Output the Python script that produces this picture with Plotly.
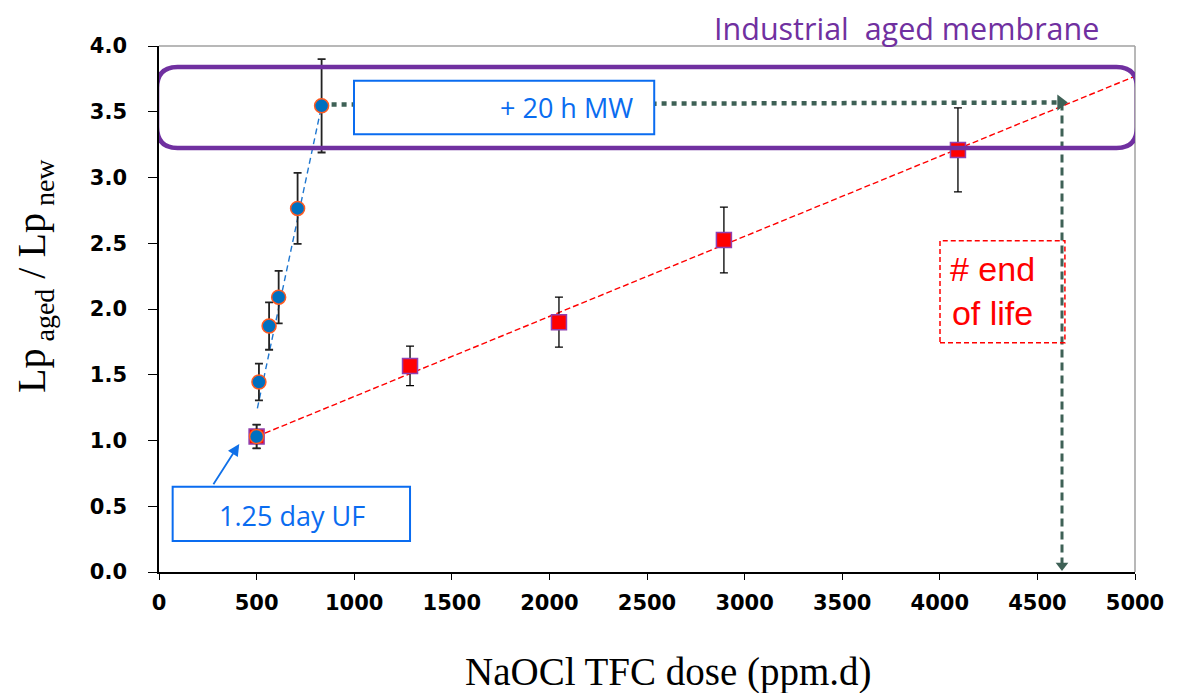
import plotly.graph_objects as go

# ---- data ----
uf_dose = [500, 512, 564, 613, 710, 833]
uf_ratio = [1.03, 1.445, 1.87, 2.09, 2.765, 3.545]
uf_err = [0.09, 0.14, 0.18, 0.20, 0.27, 0.355]

tfc_dose = [500, 1286, 2049, 2894, 4093]
tfc_ratio = [1.03, 1.567, 1.90, 2.525, 3.21]
tfc_err = [0.09, 0.15, 0.19, 0.25, 0.32]

uf_fit_x = [504, 833]
uf_fit_y = [1.245, 3.545]
tfc_fit_x = [500, 5000]
tfc_fit_y = [1.03, 3.77]

mw_x = [833, 4620]
mw_y = [3.555, 3.57]
eol_x = [4626, 4626]
eol_y = [3.57, 0.05]

x_ticks = [0, 500, 1000, 1500, 2000, 2500, 3000, 3500, 4000, 4500, 5000]
y_ticks = [0.0, 0.5, 1.0, 1.5, 2.0, 2.5, 3.0, 3.5, 4.0]

GREEN = "#3E6156"
PURPLE = "#7030A0"
BLUE_T = "#0A6CF0"

fig = go.Figure()

# trend lines
fig.add_trace(go.Scatter(x=tfc_fit_x, y=tfc_fit_y, mode="lines",
                         line=dict(color="#FF0000", width=1.4, dash="6px,3px"),
                         showlegend=False, hoverinfo="skip"))
fig.add_trace(go.Scatter(x=uf_fit_x, y=uf_fit_y, mode="lines",
                         line=dict(color="#1F77D0", width=1.4, dash="6px,4px"),
                         showlegend=False, hoverinfo="skip"))

# green arrows
fig.add_trace(go.Scatter(x=mw_x, y=mw_y, mode="lines",
                         line=dict(color=GREEN, width=4.5, dash="5px,5px"),
                         showlegend=False, hoverinfo="skip"))
fig.add_trace(go.Scatter(x=[mw_x[-1]], y=[mw_y[-1]], mode="markers",
                         marker=dict(symbol="triangle-right", size=14, color=GREEN),
                         showlegend=False, hoverinfo="skip"))
fig.add_trace(go.Scatter(x=eol_x, y=eol_y, mode="lines",
                         line=dict(color=GREEN, width=3, dash="8px,5px"),
                         showlegend=False, hoverinfo="skip"))
fig.add_trace(go.Scatter(x=[eol_x[-1]], y=[eol_y[-1]], mode="markers",
                         marker=dict(symbol="triangle-down", size=11, color=GREEN),
                         showlegend=False, hoverinfo="skip"))

# data series
fig.add_trace(go.Scatter(x=tfc_dose, y=tfc_ratio, mode="markers",
                         marker=dict(symbol="square", size=15, color="#FF0000",
                                     line=dict(color="#9040B0", width=1.5)),
                         error_y=dict(type="data", array=tfc_err, color="black",
                                      thickness=1.3, width=4),
                         showlegend=False))
fig.add_trace(go.Scatter(x=uf_dose, y=uf_ratio, mode="markers",
                         marker=dict(symbol="circle", size=14, color="#0070C0",
                                     line=dict(color="#FF5A20", width=1.5)),
                         error_y=dict(type="data", array=uf_err, color="#222222",
                                      thickness=1.8, width=4),
                         showlegend=False))

shapes = []
# frame top/right
shapes.append(dict(type="line", xref="paper", yref="paper", x0=0, x1=1, y0=1, y1=1,
                   line=dict(color="#A0A0A0", width=1.5)))
shapes.append(dict(type="line", xref="paper", yref="paper", x0=1, x1=1, y0=0, y1=1,
                   line=dict(color="#A0A0A0", width=1.5)))

# purple rounded box
x0, x1, y0, y1 = -10, 5010, 3.224, 3.84
rx, ry = 105, 0.16
path = (f"M {x0+rx},{y0} L {x1-rx},{y0} Q {x1},{y0} {x1},{y0+ry} "
        f"L {x1},{y1-ry} Q {x1},{y1} {x1-rx},{y1} L {x0+rx},{y1} "
        f"Q {x0},{y1} {x0},{y1-ry} L {x0},{y0+ry} Q {x0},{y0} {x0+rx},{y0} Z")
shapes.append(dict(type="path", xref="x", yref="y", path=path,
                   line=dict(color=PURPLE, width=4.5)))

# text boxes
shapes.append(dict(type="rect", xref="x", yref="y", x0=999, x1=2537, y0=3.329, y1=3.736,
                   fillcolor="white", line=dict(color=BLUE_T, width=2)))
shapes.append(dict(type="rect", xref="x", yref="y", x0=70, x1=1286, y0=0.236, y1=0.649,
                   fillcolor="white", line=dict(color=BLUE_T, width=2)))
shapes.append(dict(type="rect", xref="x", yref="y", x0=4001, x1=4641, y0=1.744, y1=2.519,
                   line=dict(color="#FF0000", width=1.5, dash="5px,3px")))

annotations = [
    dict(x=2090, y=3.532, xref="x", yref="y", text="+ 20 h MW", showarrow=False,
         font=dict(family="Open Sans", size=27, color=BLUE_T)),
    dict(x=681, y=0.433, xref="x", yref="y", text="1.25 day UF", showarrow=False,
         font=dict(family="Open Sans", size=27, color=BLUE_T)),
    dict(x=4272, y=2.137, xref="x", yref="y", text="# end<br>of life", showarrow=False,
         font=dict(family="Liberation Sans", size=34, color="#FF0000")),
    dict(x=0.766, y=1.034, xref="paper", yref="paper", xanchor="center", yanchor="middle",
         text="Industrial  aged membrane",
         showarrow=False, font=dict(family="Open Sans", size=30.5, color=PURPLE)),
    dict(x=411, y=0.973, ax=274, ay=0.656, xref="x", yref="y", axref="x", ayref="y",
         text="", showarrow=True, arrowhead=2, arrowsize=1.3, arrowwidth=1.8,
         arrowcolor="#1070E8"),
    dict(x=-0.128, y=0.563, xref="paper", yref="paper", xanchor="center", yanchor="middle",
         textangle=-90,
         text="Lp<sub> aged</sub> / Lp<sub> new</sub>", showarrow=False,
         font=dict(family="Liberation Serif", size=40, color="black")),
    dict(x=0.5225, y=-0.19, xref="paper", yref="paper", xanchor="center", yanchor="middle",
         text="NaOCl TFC dose (ppm.d)", showarrow=False,
         font=dict(family="Liberation Serif", size=39, color="black")),
]

fig.update_layout(
    width=1170, height=685,
    margin=dict(l=151, r=43, t=38, b=121),
    plot_bgcolor="white", paper_bgcolor="white",
    shapes=shapes, annotations=annotations,
    xaxis=dict(range=[0, 5000], tickvals=x_ticks, showgrid=False, zeroline=False,
               showline=True, linecolor="black", linewidth=1.5,
               ticks="outside", ticklen=6, tickcolor="black", ticklabelstandoff=5,
               tickfont=dict(family="DejaVu Sans", size=21, color="black", weight="bold")),
    yaxis=dict(range=[0, 4], tickvals=y_ticks, tickformat=".1f", showgrid=False,
               zeroline=False, showline=True, linecolor="black", linewidth=1.5,
               ticks="outside", ticklen=9, tickcolor="black", ticklabelstandoff=17,
               tickfont=dict(family="DejaVu Sans", size=21, color="black", weight="bold")),
)

fig.write_html("out.html")
